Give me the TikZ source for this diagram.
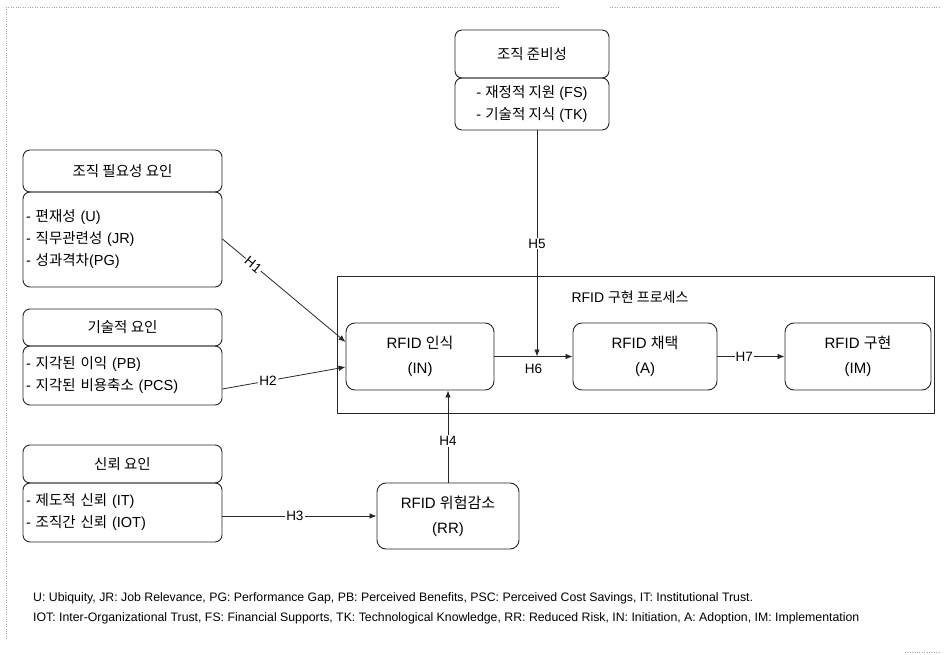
\documentclass[tikz,border=0pt]{standalone}
\usepackage{fontspec}
\setmainfont{Liberation Sans}
\newfontfamily\kr{Noto Sans CJK KR}
\usetikzlibrary{arrows.meta}
\begin{document}
\begin{tikzpicture}[x=1pt,y=-1pt,
  box/.style={draw=black!85, line width=0.9pt, rounded corners=7pt, inner sep=0pt, font=\fontsize{14.5}{22}\selectfont},
  proc/.style={draw=black!85, line width=0.9pt, rounded corners=9pt, inner sep=0pt, align=center, font=\fontsize{15}{25}\selectfont},
  arr/.style={draw=black!85, line width=0.8pt, -{Latex[length=7pt,width=5.5pt]}},
  lab/.style={fill=white, inner sep=1pt, font=\fontsize{13.5}{15}\selectfont},
  frame/.style={draw=black!35, dotted, line width=0.4pt}]
\useasboundingbox (0,0) rectangle (945,655);
\draw[frame] (6,7) -- (560,7);
\draw[frame] (610,7) -- (940,7);
\draw[frame] (6,7) -- (6,640);
\draw[frame] (905,652) -- (940,652);

% container
\node[draw=black!85, line width=0.8pt, minimum width=597pt, minimum height=137pt, inner sep=0pt] (proc) at (635.5,344.5) {};
\node[font=\fontsize{14}{16}\selectfont] (proclab) at (630,297) {RFID {\kr 구현 프로세스}};

% top box
\node[box, minimum width=154pt, minimum height=48pt] (toph) at (532,54) {\kr 조직 준비성};
\node[box, minimum width=154pt, minimum height=52pt, align=left] (topb) at (532,104) {- {\kr 재정적 지원} (FS)\\- {\kr 기술적 지식} (TK)};

% left boxes
\node[box, minimum width=199pt, minimum height=42pt] (n1h) at (122.5,171) {\kr 조직 필요성 요인};
\node[box, minimum width=199pt, minimum height=95pt, align=left, text width=193pt] (n1b) at (122.5,239.5) {- {\kr 편재성} (U)\\- {\kr 직무관련성} (JR)\\- {\kr 성과격차}(PG)};

\node[box, minimum width=199pt, minimum height=37pt] (n2h) at (122.5,327.5) {\kr 기술적 요인};
\node[box, minimum width=199pt, minimum height=59pt, align=left, text width=193pt] (n2b) at (122.5,375.5) {- {\kr 지각된 이익} (PB)\\- {\kr 지각된 비용축소} (PCS)};

\node[box, minimum width=199pt, minimum height=38pt] (n3h) at (122.5,464) {\kr 신뢰 요인};
\node[box, minimum width=199pt, minimum height=59pt, align=left, text width=193pt] (n3b) at (122.5,512.5) {- {\kr 제도적 신뢰} (IT)\\- {\kr 조직간 신뢰} (IOT)};

% process nodes
\node[proc, minimum width=148pt, minimum height=67pt] (IN) at (420,356.5) {RFID {\kr 인식}\\(IN)};
\node[proc, minimum width=144pt, minimum height=67pt] (A) at (645,356.5) {RFID {\kr 채택}\\(A)};
\node[proc, minimum width=146pt, minimum height=67pt] (IM) at (858,356.5) {RFID {\kr 구현}\\(IM)};
\node[proc, minimum width=142pt, minimum height=66pt] (RR) at (448,516) {RFID {\kr 위험감소}\\(RR)};

% connectors
\coordinate (h1s) at (n1b.east |- 0,239);
\coordinate (h1e) at (IN.west |- 0,342);
\draw[arr] (h1s) -- node[lab, pos=0.25, sloped] {H1} (h1e);
\coordinate (h2s) at (n2b.east |- 0,389);
\coordinate (h2e) at (IN.west |- 0,367);
\draw[arr] (h2s) -- node[lab, pos=0.37] {H2} (h2e);
\draw[arr] (n3b.east |- RR.west) -- node[lab, pos=0.47] {H3} (RR.west);
\draw[arr] (RR.north) -- node[lab, pos=0.45] {H4} (RR.north |- IN.south);
\draw[arr] (IN.east) -- node[font=\fontsize{13.5}{15}\selectfont, below=4pt] {H6} (A.west);
\coordinate (h5s) at (537,0 |- topb.south);
\draw[arr] (h5s) -- node[lab, pos=0.5] {H5} (h5s |- IN.east);
\draw[arr] (A.east) -- node[lab, pos=0.4] {H7} (IM.west);

% notes
\node[anchor=west, font=\fontsize{12.3}{14}\selectfont, inner sep=0pt] (note1) at (33,598) {U: Ubiquity, JR: Job Relevance, PG: Performance Gap, PB: Perceived Benefits, PSC: Perceived Cost Savings, IT: Institutional Trust.};
\node[anchor=west, font=\fontsize{12.3}{14}\selectfont, inner sep=0pt] (note2) at (33,618) {IOT: Inter-Organizational Trust, FS: Financial Supports, TK: Technological Knowledge, RR: Reduced Risk, IN: Initiation, A: Adoption, IM: Implementation};
\end{tikzpicture}
\end{document}
